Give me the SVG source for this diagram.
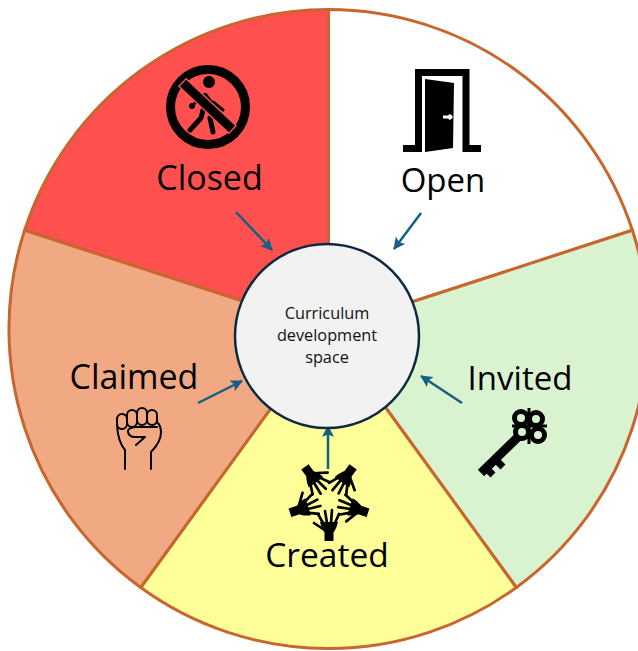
<svg xmlns="http://www.w3.org/2000/svg" width="638" height="651" viewBox="0 0 638 651">
<style>
.seg{stroke:#c8662f;stroke-width:3;stroke-linejoin:round}
.lbl{font-family:"Open Sans","Liberation Sans",sans-serif;font-size:34px;fill:#000;text-anchor:middle}
.mid{font-family:"Open Sans","Liberation Sans",sans-serif;font-size:16.300px;fill:#111;text-anchor:middle}
.arr{stroke:#156082;stroke-width:2.500;fill:none;marker-end:url(#ah)}
.ln{fill:none;stroke:#000;stroke-linecap:round;stroke-linejoin:round}
</style>
<defs>
<marker id="ah" markerUnits="userSpaceOnUse" markerWidth="14" markerHeight="14" refX="11" refY="6" orient="auto"><path d="M0 0L12 6L0 12L2.500 6Z" fill="#156082"/></marker>
<g id="hand">
<rect x="-4.500" y="30" width="9" height="11" fill="#000"/>
<path d="M-5 32Q-8 27 -9 22L9 22Q8 27 5 32Z" fill="#000"/>
<path class="ln" stroke-width="2.700" d="M-6 23L-11 14M-2 23L-4 11M2 23L3 10M6 23L10 14"/>
<path class="ln" stroke-width="2.700" d="M-6 29L-15 23"/>
</g>
</defs>
<rect width="638" height="651" fill="#fff"/>
<g id="wheel">
<path id="seg-closed" class="seg" fill="#ff5050" d="M328.500 329L328.500 9.500A319.500 319.500 0 0 0 24.600 230.300Z"/>
<path id="seg-open" class="seg" fill="#fff" d="M328.500 329L328.500 9.500A319.500 319.500 0 0 1 632.400 230.300Z"/>
<path id="seg-invited" class="seg" fill="#d9f2d0" d="M328.500 329L632.400 230.300A319.500 319.500 0 0 1 516.300 587.500Z"/>
<path id="seg-created" class="seg" fill="#ffff99" d="M328.500 329L516.300 587.500A319.500 319.500 0 0 1 140.700 587.500Z"/>
<path id="seg-claimed" class="seg" fill="#f1a983" d="M328.500 329L140.700 587.500A319.500 319.500 0 0 1 24.600 230.300Z"/>
</g>
<g id="connectors">
<path class="arr" d="M236 212L272 250"/>
<path class="arr" d="M421 213L394 249"/>
<path class="arr" d="M462 403L421 376"/>
<path class="arr" d="M328 469L328 426"/>
<path class="arr" d="M198 403L242 381"/>
</g>
<g id="center">
<circle cx="327" cy="336" r="92" fill="#f2f2f2" stroke="#0e2841" stroke-width="2.500"/>
<text class="mid" x="327" y="319">Curriculum</text>
<text class="mid" x="327" y="341">development</text>
<text class="mid" x="327" y="363">space</text>
</g>
<g id="closed">
<circle cx="208" cy="107" r="37.500" fill="none" stroke="#000" stroke-width="9"/>
<circle cx="209" cy="82" r="6"/>
<path class="ln" stroke-width="5" d="M190 130L201 118L203 110M213 132L210 118"/>
<path class="ln" stroke-width="6" d="M205 96L214 108"/>
<path class="ln" stroke-width="3" d="M213 102L223 110M198 100L193 105"/>
<circle cx="192" cy="106" r="3"/>
<path d="M182 82L233 130" stroke="#ff5050" stroke-width="12" fill="none"/>
<path d="M183 83L232 129" stroke="#000" stroke-width="9" fill="none"/>
<text class="lbl" x="209.500" y="190">Closed</text>
</g>
<g id="open">
<path d="M403 148.500H418.500V72.500H466V148.500H481" fill="none" stroke="#000" stroke-width="7"/>
<path d="M425 79L454 83L453 148L425 152Z"/>
<path d="M443 115.500H448A2.500 2.500 0 1 1 448 118.500H443Z" fill="#fff"/>
<text class="lbl" x="443" y="192" style="font-size:33px">Open</text>
</g>
<g id="invited">
<path d="M519 436L481 473" stroke="#000" stroke-width="9" fill="none"/>
<path d="M495 459L503 467M486 468L493 475" stroke="#000" stroke-width="7" fill="none"/>
<circle cx="521" cy="418" r="6.500" fill="none" stroke="#000" stroke-width="5"/>
<circle cx="536" cy="419" r="6.500" fill="none" stroke="#000" stroke-width="5"/>
<circle cx="522" cy="432" r="6.500" fill="none" stroke="#000" stroke-width="5"/>
<circle cx="538" cy="435" r="6.500" fill="none" stroke="#000" stroke-width="5"/>
<path d="M529 408V444M512 426H547" stroke="#000" stroke-width="3" fill="none"/>
<text class="lbl" x="520" y="390" style="font-size:33px">Invited</text>
</g>
<g id="created">
<use href="#hand" transform="translate(329 500)"/>
<use href="#hand" transform="translate(329 500) rotate(72)"/>
<use href="#hand" transform="translate(329 500) rotate(144)"/>
<use href="#hand" transform="translate(329 500) rotate(216)"/>
<use href="#hand" transform="translate(329 500) rotate(288)"/>
<text class="lbl" x="327" y="567" style="font-size:33.500px">Created</text>
</g>
<g id="claimed">
<path class="ln" stroke-width="2" d="M125 469V450Q118 442 117 425M151 469V452Q161 442 161 432Q161 426 157 422"/>
<rect class="ln" stroke-width="2" x="117" y="414" width="10" height="15" rx="5"/>
<rect class="ln" stroke-width="2" x="127" y="410" width="10" height="17" rx="5"/>
<rect class="ln" stroke-width="2" x="137" y="408" width="10" height="17" rx="5"/>
<rect class="ln" stroke-width="2" x="147" y="410" width="10" height="15" rx="5"/>
<path class="ln" stroke-width="2" d="M157 427H135Q127 428 128 432Q129 437 135 437H145L136 445"/>
<text class="lbl" x="134" y="389">Claimed</text>
</g>
</svg>
